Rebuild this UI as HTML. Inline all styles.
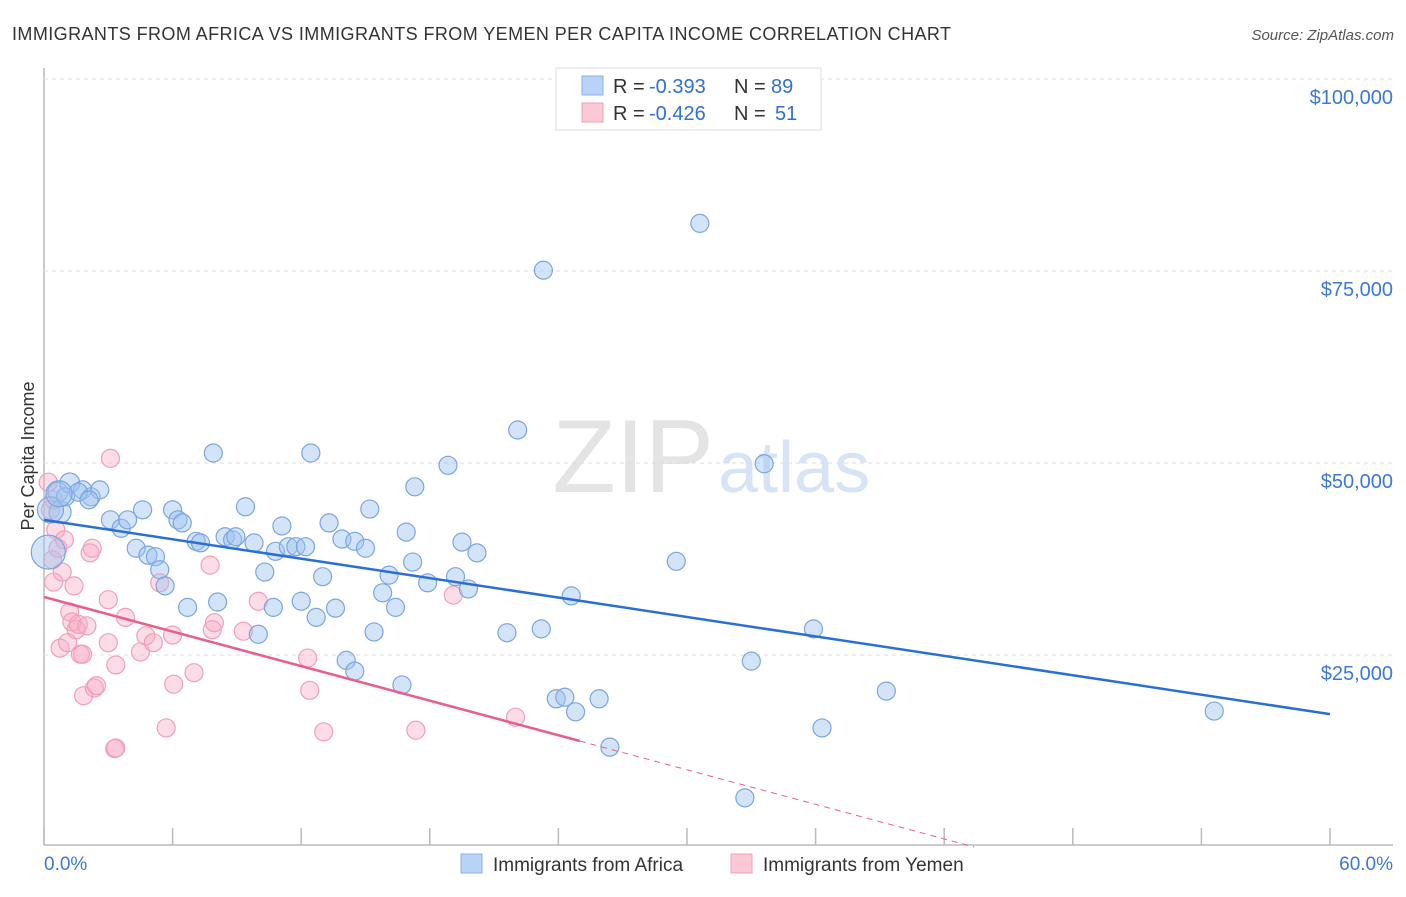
<!DOCTYPE html>
<html><head><meta charset="utf-8"><style>
body{margin:0;background:#fff;font-family:"Liberation Sans",sans-serif;}
svg text{font-family:"Liberation Sans",sans-serif;}
</style></head><body>
<svg id="chart" width="1406" height="892" xmlns="http://www.w3.org/2000/svg">
<text x="12" y="40" font-size="18" fill="#333" textLength="939">IMMIGRANTS FROM AFRICA VS IMMIGRANTS FROM YEMEN PER CAPITA INCOME CORRELATION CHART</text>
<text x="1394" y="40" font-size="15" fill="#555" font-style="italic" text-anchor="end">Source: ZipAtlas.com</text>
<text x="714" y="492" font-size="104" fill="#e4e4e4" text-anchor="end" font-family="Liberation Serif">ZIP</text>
<text x="718" y="492" font-size="72" fill="#d6e4f5">atlas</text>
<g id="grid"></g><g id="pts"></g><g id="trend"></g>
<text transform="translate(34,456) rotate(-90)" font-size="18" fill="#333" text-anchor="middle">Per Capita Income</text>
<g>
<rect x="556" y="68" width="265" height="62" fill="#fff" stroke="#ddd"/>
<rect x="582" y="76" width="21" height="19" fill="#b8d3f5" stroke="#8ab2e8"/>
<rect x="582" y="103" width="21" height="19" fill="#fbc8d6" stroke="#f0a0b8"/>
<text x="613" y="93" font-size="20" fill="#333">R =</text><text x="649" y="93" font-size="20" fill="#2f6fd6">-0.393</text>
<text x="734" y="93" font-size="20" fill="#333">N =</text><text x="771" y="93" font-size="20" fill="#2f6fd6">89</text>
<text x="613" y="120" font-size="20" fill="#333">R =</text><text x="649" y="120" font-size="20" fill="#2f6fd6">-0.426</text>
<text x="734" y="120" font-size="20" fill="#333">N =</text><text x="775" y="120" font-size="20" fill="#2f6fd6">51</text>
</g>
<g>
<rect x="461" y="854" width="21" height="19" fill="#b8d3f5" stroke="#8ab2e8"/>
<text x="493" y="871" font-size="19" fill="#333">Immigrants from Africa</text>
<rect x="731" y="854" width="21" height="19" fill="#fbc8d6" stroke="#f0a0b8"/>
<text x="763" y="871" font-size="19" fill="#333">Immigrants from Yemen</text>
</g>
</svg>
<script>
const yTicks=[25000,50000,75000,100000];
const yTickLabels=["$25,000","$50,000","$75,000","$100,000"];
const xTicks=[0,6,12,18,24,30,36,42,48,54,60];
const africaX=[0.65,1.2,1.8,2.2,2.6,0.75,1.0,1.6,2.1,3.1,3.6,3.9,4.6,4.3,4.85,5.2,5.4,5.65,6.0,6.25,6.45,6.7,7.1,7.3,7.9,8.1,8.45,8.8,8.95,9.4,9.8,10.0,10.3,10.7,10.8,11.1,11.4,11.75,12.2,12.0,12.45,12.7,13.0,13.3,13.6,13.9,14.1,14.5,14.5,15.0,15.2,15.4,15.8,16.1,16.4,16.7,16.9,17.2,17.3,17.9,18.85,19.2,19.5,19.8,20.2,21.6,22.1,23.2,23.3,23.9,24.3,24.6,24.8,25.9,26.4,29.5,30.6,32.7,33.0,33.6,35.9,36.3,39.3,54.6,0.2,0.3,0.7];
const africaY=[46.2,47.4,46.5,45.6,46.5,43.6,45.6,46.2,45.2,42.6,41.5,42.6,43.9,38.9,38.0,37.8,36.1,34.0,43.9,42.6,42.2,31.2,39.8,39.6,51.3,31.9,40.4,40.0,40.4,44.3,39.6,27.7,35.8,31.2,38.5,41.8,39.1,39.1,39.1,32.0,51.3,29.9,35.2,42.2,31.1,40.1,24.3,39.8,22.9,38.9,44.0,28.0,33.1,35.4,31.2,21.1,41.0,37.1,46.9,34.4,49.7,35.2,39.7,33.6,38.3,27.9,54.3,28.4,75.1,19.3,19.5,32.7,17.6,19.3,13.0,37.2,81.2,6.4,24.2,49.9,28.4,15.5,20.3,17.7,38.4,43.9,46.0];
const africaR=[11,11,10,10,10,12,10,10,10,10,10,10,10,10,10,10,10,10,10,10,10,10,10,10,10,10,10,10,10,10,10,10,10,10,10,10,10,10,10,10,10,10,10,10,10,10,10,10,10,10,10,10,10,10,10,10,10,10,10,10,10,10,10,10,10,10,10,10,10,10,10,10,10,10,10,10,10,10,10,10,10,10,10,10,18,14,14];
const yemenX=[0.2,0.3,0.45,0.55,0.4,0.65,0.45,0.85,0.95,1.2,1.3,1.5,1.4,1.6,1.7,1.8,2.0,0.75,1.1,1.85,2.15,2.25,2.35,2.45,3.0,3.1,3.0,3.3,3.35,3.35,3.8,4.5,4.75,5.1,5.4,5.7,6.0,6.05,7.0,7.75,7.85,7.95,9.3,10.0,12.3,12.4,13.05,17.35,19.1,22.0];
const yemenY=[47.5,43.9,45.2,41.3,37.4,38.9,34.5,35.8,40.0,30.6,29.3,28.3,34.0,29.0,25.1,25.1,28.8,25.9,26.6,19.7,38.3,38.9,20.7,21.0,32.2,50.6,26.6,12.8,12.9,23.7,29.9,25.4,27.5,26.6,34.4,15.5,27.6,21.2,22.7,36.7,28.3,29.2,28.1,32.0,24.6,20.4,15.0,15.2,32.8,16.9];
const africaTrend=[42.6,17.3]; // income (k) at x=0 and x=60
const yemenTrend=[32.55,-0.75]; // intercept (k), slope per %
const NS="http://www.w3.org/2000/svg";
const X0=44,X1=1330,Y0=847,YK=192/25;
const sx=v=>X0+(v/60)*(X1-X0);
const sy=v=>Y0-v*YK;
function el(t,a,p){const e=document.createElementNS(NS,t);for(const k in a)e.setAttribute(k,a[k]);p.appendChild(e);return e;}
const gridG=document.getElementById('grid');
const axY=el('line',{x1:X0,y1:68,x2:X0,y2:845,stroke:'#bbb','stroke-width':1.5},gridG);


const axX=el('line',{x1:X0,y1:845,x2:1393,y2:845,stroke:'#bbb','stroke-width':1.5},gridG);


const topLine=el('line',{x1:X0,y1:79,x2:1393,y2:79,stroke:'#ddd','stroke-dasharray':'4,4'},gridG);


yTicks.forEach((v,i)=>{const y=sy(v/1000);
 const l=el('line',{x1:X0,y1:y,x2:1393,y2:y,stroke:'#ddd','stroke-dasharray':'4,4'},gridG);
 
 
 const t=el('text',{x:1393,y:y+25,'font-size':20,fill:'#3b78d8','text-anchor':'end'},gridG);t.textContent=yTickLabels[i];
 
 
});
xTicks.forEach(v=>{const x=sx(v);const l=el('line',{x1:x,y1:828,x2:x,y2:845,stroke:'#bbb','stroke-width':1.5},gridG);
 
 });
const tMin=el('text',{x:44,y:870,'font-size':19,fill:'#3b78d8'},gridG);tMin.textContent='0.0%';


const tMax=el('text',{x:1393,y:870,'font-size':19,fill:'#3b78d8','text-anchor':'end'},gridG);tMax.textContent='60.0%';


const ptsG=document.getElementById('pts');
yemenX.forEach((x,i)=>{const c=el('circle',{cx:sx(x),cy:sy(yemenY[i]),r:9,fill:'rgba(248,170,195,0.4)',stroke:'#f0a0b8','stroke-width':1.2},ptsG);
 
 });
africaX.forEach((x,i)=>{const c=el('circle',{cx:sx(x),cy:sy(africaY[i]),r:africaR[i]-1,fill:'rgba(160,195,240,0.45)',stroke:'#7aa6e0','stroke-width':1.2},ptsG);
 
 });
const trG=document.getElementById('trend');
const lnA=el('line',{x1:sx(0),y1:sy(africaTrend[0]),x2:sx(60),y2:sy(africaTrend[1]),stroke:'#2a6fd6','stroke-width':2.5},trG);


const yx=v=>yemenTrend[0]+yemenTrend[1]*v;
const lnY=el('line',{x1:sx(0),y1:sy(yx(0)),x2:sx(25),y2:sy(yx(25)),stroke:'#e8608a','stroke-width':2.5},trG);


const xe=-yemenTrend[0]/yemenTrend[1];
const lnD=el('line',{x1:sx(25),y1:sy(yx(25)),x2:sx(xe),y2:sy(0),stroke:'#e8608a','stroke-width':1,'stroke-dasharray':'6,5'},trG);


</script>
</body></html>
